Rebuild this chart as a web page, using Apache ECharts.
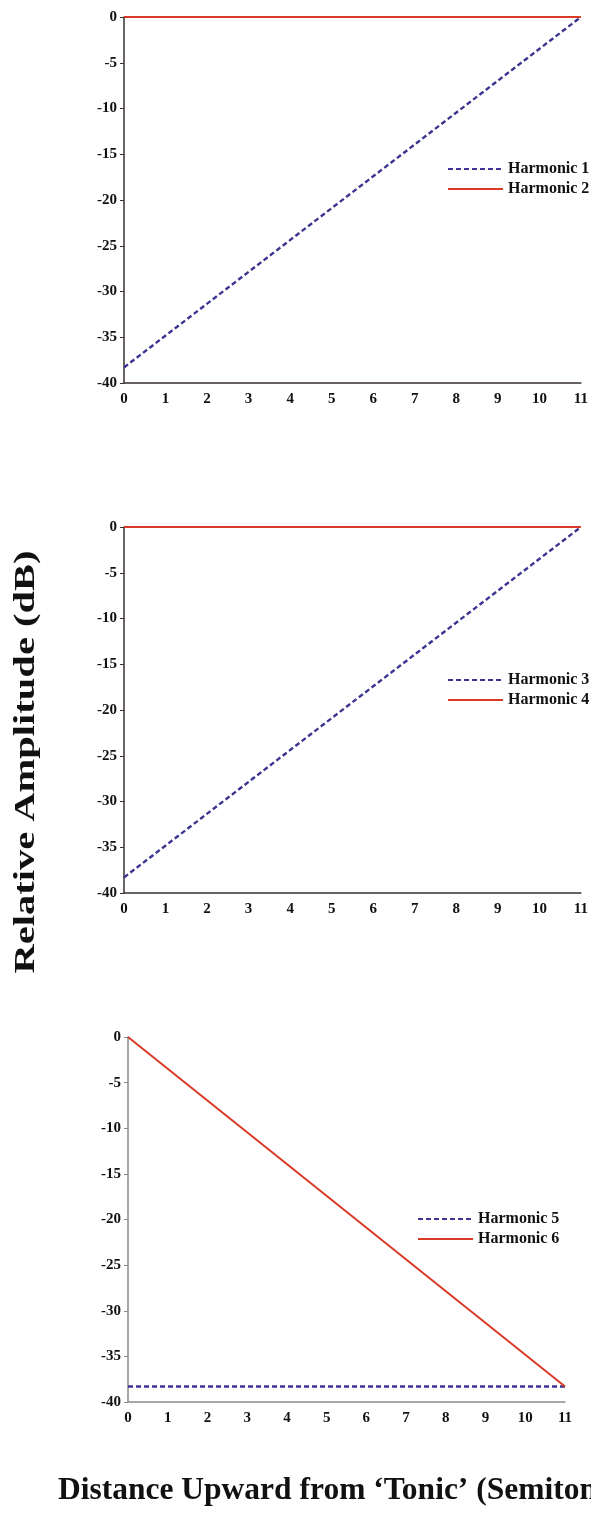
<!DOCTYPE html>
<html><head><meta charset="utf-8">
<script src="https://cdn.jsdelivr.net/npm/echarts@6/dist/echarts.min.js"></script>
<style>html,body{margin:0;padding:0;background:#fff}#c{width:591px;height:1513px}</style>
</head><body><div id="c"></div>
<script>
const xEnds = [0, 11];
const harmonic1 = [-38.3, 0];
const harmonic2 = [0, 0];
const harmonic3 = [-38.3, 0];
const harmonic4 = [0, 0];
const harmonic5 = [-38.3, -38.3];
const harmonic6 = [0, -38.3];
const xTicks = [0,1,2,3,4,5,6,7,8,9,10,11];
const yTitle = 'Relative Amplitude (dB)';
const xTitle = 'Distance Upward from \u2018Tonic\u2019 (Semitones)';

const FONT = 'Liberation Serif';
const BLUE = '#3b3490';
const RED = '#d93a25';
const pairs = (ys) => xEnds.map((x, i) => [x, ys[i]]);

const grids = [
  {left:124, right:10, top:17, height:366},
  {left:124, right:10, top:527, height:366},
  {left:128, right:26, top:1037, height:365}
];
const axisColors = ['#3a3030', '#3a3030', '#8a8a8a'];

const xAxis = grids.map((g, i) => ({
  type:'value', gridIndex:i, min:0, max:11, interval:1,
  axisLine:{show:true, onZero:false, lineStyle:{color:axisColors[i], width:1.5}},
  axisTick:{show:false}, splitLine:{show:false},
  axisLabel:{color:'#111', fontFamily:FONT, fontWeight:'bold', fontSize:15, margin:9,
    formatter:(v)=> xTicks.includes(v) ? String(v) : ''}
}));
const yAxis = grids.map((g, i) => ({
  type:'value', gridIndex:i, min:-40, max:0, interval:5,
  axisLine:{show:true, onZero:false, lineStyle:{color:axisColors[i], width:1.5}},
  axisTick:{show:true, length:4, lineStyle:{color:axisColors[i]}}, splitLine:{show:false},
  axisLabel:{color:'#111', fontFamily:FONT, fontWeight:'bold', fontSize:15, margin:7}
}));

function mk(name, data, idx, dashed){
  return {name, type:'line', xAxisIndex:idx, yAxisIndex:idx, data:pairs(data),
    symbol:'none', silent:true, animation:false,
    lineStyle:{color: dashed?BLUE:RED, width: dashed?2.4:2, type: dashed?[5,3]:'solid'},
    itemStyle:{color: dashed?BLUE:RED}};
}
const series = [
  mk('Harmonic 1', harmonic1, 0, true), mk('Harmonic 2', harmonic2, 0, false),
  mk('Harmonic 3', harmonic3, 1, true), mk('Harmonic 4', harmonic4, 1, false),
  mk('Harmonic 5', harmonic5, 2, true), mk('Harmonic 6', harmonic6, 2, false)
];
const legTop = [156, 667, 1206];
const legLeft = [442, 442, 412];
const legend = [0,1,2].map(i => ({
  data:[series[2*i].name, series[2*i+1].name], orient:'vertical',
  left:legLeft[i], top:legTop[i], itemWidth:55, itemHeight:14, itemGap:4,
  selectedMode:false, itemStyle:{opacity:0},
  textStyle:{color:'#111', fontFamily:FONT, fontWeight:'bold', fontSize:16}
}));

const chart = echarts.init(document.getElementById('c'), null, {renderer:'canvas'});
chart.setOption({
  backgroundColor:'#fff', animation:false,
  grid:grids, xAxis, yAxis, series, legend,
  graphic:[
    {type:'text', x:26, y:762, rotation:Math.PI/2, scaleX:1.35, scaleY:1,
      style:{text:yTitle, fill:'#111', font:'bold 30px "Liberation Serif"', textAlign:'center', textVerticalAlign:'middle'}},
    {type:'text', x:58, y:1491,
      style:{text:xTitle, fill:'#111', font:'bold 31.5px "Liberation Serif"', textAlign:'left', textVerticalAlign:'middle'}}
  ]
});
</script></body></html>
